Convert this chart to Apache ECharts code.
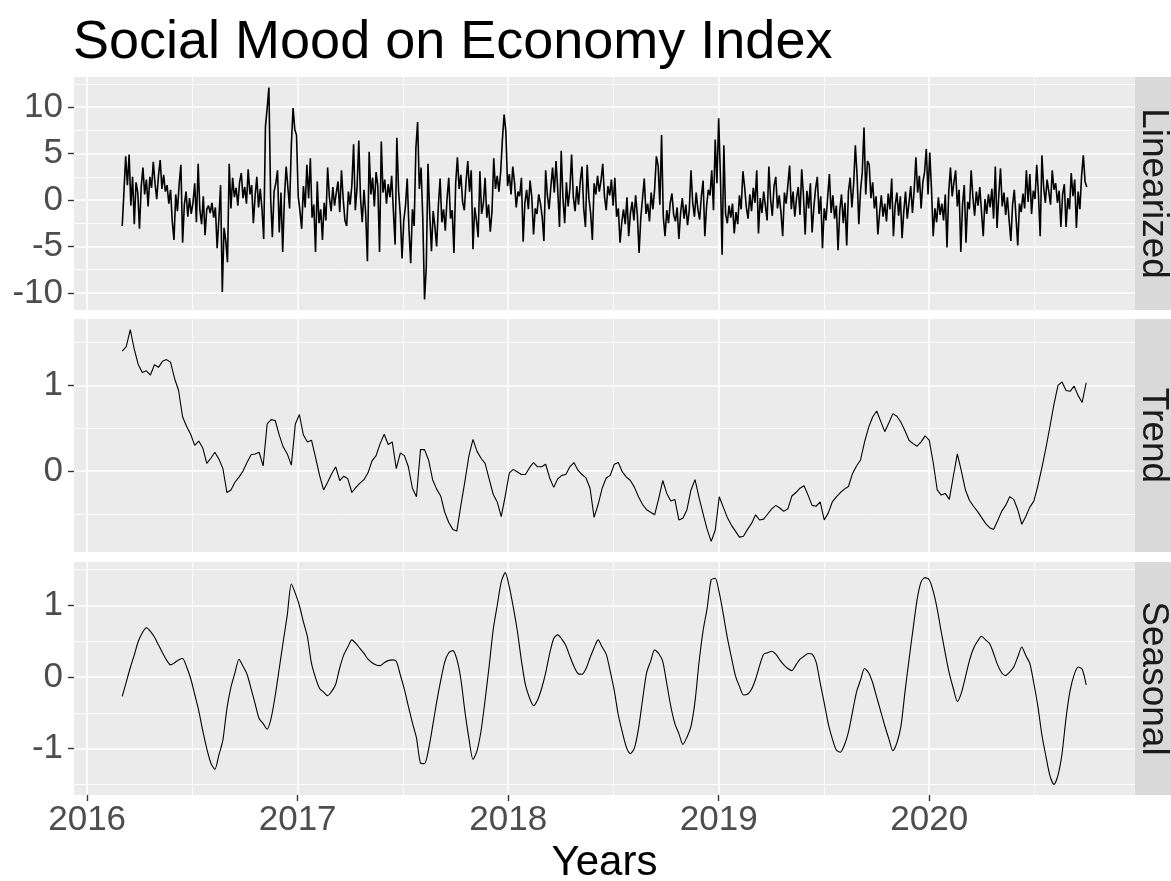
<!DOCTYPE html>
<html>
<head>
<meta charset="utf-8">
<title>Social Mood on Economy Index</title>
<script src="https://cdn.jsdelivr.net/npm/echarts@6/dist/echarts.min.js"></script>
<style>
  html, body { margin: 0; padding: 0; background: #fff; }
  #chart { width: 1171px; height: 881px; }
</style>
</head>
<body>
<div id="chart"></div>
<script>
// linearized index, one value every 3 days from 2016-03-02
const linearStart = '2016-03-02';
const linearStepDays = 3;
const linearized = [
  -2.8, 0.9, 4.7, 1.6, 4.9, -0.6, 2.5, -2.6, 1.9, 0.8,
  -3.1, 1.4, 3.5, 0.6, 2.2, -0.7, 2.5, 1.3, 4.1, 1.8,
  0.1, 2.6, 4.3, 1.2, 2.7, 0.9, 1.6, -0.4, 1.1, -2.3,
  -4.3, 0.6, -1.2, 1.7, 3.8, -4.6, -0.5, 0.9, -1.8, 0.2,
  -1.5, -0.3, 1.8, -2.4, 3.9, -1.1, -2.6, 0.4, -3.8, -1.0,
  -0.6, -1.4, -0.3, -1.9, -0.8, -5.2, -2.1, 1.6, -9.9, -3.0,
  -4.4, -6.7, 3.9, -0.9, 2.4, 0.3, 1.3, -0.6, 1.9, 2.9,
  0.2, 1.4, -0.4, 3.3, 0.6, 1.6, -2.5, 0.4, 2.5, -0.8,
  1.2, -1.0, -4.2, 7.9, 9.9, 12.1, 0.3, -4.0, 0.9, 1.8,
  3.2, -3.5, 0.8, -5.6, 0.2, 3.6, 3.8, -0.9, 5.9, 9.9,
  7.6, 7.0, 0.4, -1.2, -3.1, 1.5, -0.8, 3.8, 0.2, 4.5,
  -1.9, -0.5, -5.6, 2.0, -2.5, -1.0, -4.3, -0.3, -2.2, 3.5,
  0.3, -1.2, 1.4, -0.6, 0.8, 2.0, -1.3, 3.2, 0.1, -2.2,
  -2.8, 0.9, -0.5, 1.6, 6.0, -1.1, 1.3, 6.4, 0.2, -2.4,
  1.1, -1.5, -6.6, 5.2, 0.6, 2.4, -0.7, 3.0, 1.5, -5.6,
  6.3, 0.8, 2.2, -0.4, 1.7, 0.3, 2.6, -1.2, -4.8, 6.7,
  1.0, -1.6, -6.3, -2.2, -0.6, 2.3, -3.1, -6.8, -1.0, -2.8,
  5.6, 8.4, 1.2, 3.5, -2.0, -10.7, -7.3, 3.9, -1.5, -5.5,
  -1.2, -2.9, -5.0, -0.6, 2.3, -2.4, -1.0, -3.3, 0.1, 2.4,
  -2.0, -1.1, -5.7, 1.8, 4.6, 1.2, 2.7, -0.2, -1.1, 2.0,
  4.2, 0.9, 3.2, -5.3, -0.8, -2.2, -4.0, 3.1, -1.5, -0.4,
  2.4, -1.9, -0.5, -3.4, -1.2, 4.5, 1.2, 2.6, 0.9, 3.0,
  6.5, 9.2, 7.4, 1.5, 2.8, 0.6, 3.6, 1.9, -0.8, 0.9,
  0.4, 2.4, -4.5, -0.3, 1.1, -1.0, 2.1, 0.3, -3.7, -0.9,
  -1.5, 0.6, -0.4, -1.8, -4.4, 3.2, 0.5, -1.0, 1.4, 3.5,
  0.8, 4.2, 1.1, -2.9, 5.3, 0.2, -2.5, 1.9, -0.7, 1.2,
  4.9, 0.3, -1.2, 1.5, -0.5, 2.0, 3.6, -0.9, -2.9, 3.8,
  0.2, -1.4, -4.3, 1.8, 0.6, 2.6, 0.9, 2.1, 3.9, 0.4,
  -1.1, 1.5, 0.5, 2.2, -0.6, 2.4, -1.8, -0.9, -4.6, -2.4,
  -1.0, -2.6, 0.3, -3.9, -1.4, -0.2, -2.2, 0.5, -1.6, -5.7,
  -1.9, 0.2, 2.3, -1.5, -0.4, -2.3, 0.8, -1.0, 1.2, 4.7,
  3.7, -0.5, 7.0, -1.8, -3.9, -1.1, -2.5, -0.3, 0.7, -1.6,
  -2.3, -0.8, -4.2, -1.4, 0.2, -2.0, -0.5, -2.7, -1.1, 3.2,
  -0.3, -1.8, 0.8, -1.0, -2.1, 0.4, 2.1, -3.9, -0.7, 1.1,
  0.5, 3.2, -1.1, 6.5, 1.8, 8.8, 2.6, -5.9, 5.9, -1.5,
  -2.5, -0.6, -1.9, -0.4, -3.6, -1.3, -2.6, 0.5, -1.0, 3.1,
  1.4, -0.8, -2.0, 0.6, -1.2, 1.3, -0.3, 3.2, -3.6, 0.2,
  -1.4, 0.9, -0.6, -2.2, 3.6, 0.1, -1.7, 1.5, 2.5, -0.9,
  0.5, -1.3, -3.9, 0.8, -0.4, 1.6, 3.7, -1.0, 0.9, -1.8,
  0.2, 1.4, -1.6, 3.3, 0.5, -3.7, 1.0, -0.9, 1.8, -3.5,
  -0.8, 1.2, 2.5, -1.5, 0.4, -5.2, -0.9, -2.2, 0.3, 2.8,
  -1.4, 0.5, -2.0, -0.6, -5.4, -1.1, 0.6, -2.5, -0.3, -4.9,
  0.9, 2.4, -0.8, 1.7, 5.9, 2.6, -2.6, 1.0, 3.0, 7.8,
  0.6, 4.2, 3.8, 0.2, 1.9, -0.9, 0.4, -3.7, -1.4, 0.5,
  -1.8, -0.4, -2.3, 0.7, -1.0, 2.3, -3.9, -0.6, 0.8, -1.7,
  0.4, -4.1, -1.2, 0.9, -2.0, -0.3, 1.5, -1.4, 1.1, 4.6,
  0.8, 2.6, -0.9, 1.9, 3.0, 5.5, 0.6, 5.1, 1.2, -3.9,
  -0.9, -2.4, 0.3, -1.6, -0.4, -2.2, 0.6, -5.1, 0.9, 3.5,
  0.4, 1.9, 3.2, -0.7, 1.1, -5.6, -0.5, 1.6, -4.6, -0.2,
  -1.0, 3.2, 0.3, -1.7, 0.9, -0.6, 1.4, -1.3, -3.9, 0.1,
  -1.5, 0.6, -0.8, 1.2, -2.0, 3.6, -3.0, 0.5, 3.4, -0.7,
  0.8, -1.6, 0.3, -2.2, -4.4, -0.5, 1.1, -1.9, -4.9, -0.4,
  -1.3, 0.7, -0.9, 3.2, -0.2, 2.8, -1.5, 1.0, 0.1, 3.8,
  0.6, -3.9, 4.8, 1.4, -0.3, 2.2, 0.9, -0.5, 3.2, 1.1,
  1.8, -0.3, 1.0, -2.9, 0.6, 1.7, -2.9, 0.2, -1.0, 2.9,
  0.4, 2.2, -3.0, 0.9, -1.0, 2.6, 4.8, 2.0, 1.4
];

// trend and seasonal components, weekly from 2016-03-02
const weeklyStart = '2016-03-02';
const weeklyStepDays = 7;
const trend = [
  1.40, 1.45, 1.65, 1.42, 1.24, 1.15, 1.17, 1.12, 1.24, 1.21,
  1.28, 1.30, 1.27, 1.08, 0.94, 0.63, 0.52, 0.43, 0.30, 0.35,
  0.27, 0.09, 0.15, 0.22, 0.14, 0.03, -0.25, -0.22, -0.13, -0.07,
  0.00, 0.10, 0.19, 0.20, 0.22, 0.06, 0.55, 0.60, 0.59, 0.42,
  0.28, 0.20, 0.07, 0.55, 0.66, 0.42, 0.34, 0.36, 0.16, -0.05,
  -0.22, -0.13, -0.03, 0.05, -0.11, -0.06, -0.09, -0.25, -0.19, -0.14,
  -0.10, -0.02, 0.12, 0.18, 0.32, 0.43, 0.31, 0.34, 0.03, 0.21,
  0.18, 0.05, -0.20, -0.30, 0.25, 0.25, 0.13, -0.10, -0.21, -0.29,
  -0.48, -0.60, -0.68, -0.70, -0.40, -0.12, 0.18, 0.37, 0.23, 0.15,
  0.09, -0.09, -0.27, -0.36, -0.53, -0.29, -0.02, 0.02, -0.01, -0.04,
  -0.04, 0.04, 0.10, 0.05, 0.05, 0.08, -0.08, -0.19, -0.09, -0.05,
  -0.04, 0.05, 0.10, 0.01, -0.04, -0.08, -0.20, -0.54, -0.39, -0.20,
  -0.08, -0.05, 0.08, 0.10, -0.01, -0.07, -0.11, -0.19, -0.30, -0.39,
  -0.45, -0.48, -0.51, -0.32, -0.11, -0.26, -0.35, -0.33, -0.57, -0.55,
  -0.45, -0.22, -0.10, -0.31, -0.50, -0.68, -0.82, -0.69, -0.30, -0.42,
  -0.54, -0.63, -0.70, -0.77, -0.76, -0.68, -0.61, -0.51, -0.57, -0.56,
  -0.50, -0.44, -0.40, -0.43, -0.47, -0.44, -0.29, -0.25, -0.20, -0.17,
  -0.28, -0.40, -0.41, -0.36, -0.57, -0.49, -0.36, -0.30, -0.25, -0.21,
  -0.18, -0.03, 0.06, 0.13, 0.34, 0.51, 0.63, 0.70, 0.58, 0.46,
  0.56, 0.67, 0.64, 0.57, 0.47, 0.36, 0.32, 0.29, 0.34, 0.41,
  0.36, 0.10, -0.22, -0.28, -0.26, -0.33, -0.06, 0.20, 0.00, -0.22,
  -0.34, -0.41, -0.47, -0.54, -0.61, -0.66, -0.68, -0.58, -0.47, -0.40,
  -0.30, -0.33, -0.45, -0.62, -0.53, -0.42, -0.35, -0.17, 0.04, 0.27,
  0.52, 0.78, 1.00, 1.04, 0.94, 0.93, 0.99, 0.88, 0.80, 1.03
];
const seasonal = [
  -0.27, -0.07, 0.13, 0.31, 0.50, 0.62, 0.69, 0.64, 0.56, 0.45,
  0.34, 0.24, 0.17, 0.20, 0.24, 0.26, 0.14, -0.02, -0.24, -0.47,
  -0.75, -1.00, -1.20, -1.29, -1.09, -0.88, -0.44, -0.14, 0.06, 0.25,
  0.15, 0.04, -0.16, -0.37, -0.58, -0.65, -0.73, -0.57, -0.26, 0.12,
  0.50, 0.87, 1.30, 1.17, 1.00, 0.77, 0.56, 0.19, -0.01, -0.16,
  -0.21, -0.26, -0.20, -0.10, 0.13, 0.31, 0.42, 0.52, 0.47, 0.40,
  0.33, 0.25, 0.20, 0.17, 0.16, 0.20, 0.23, 0.24, 0.22, 0.03,
  -0.17, -0.41, -0.64, -0.85, -1.20, -1.21, -1.01, -0.69, -0.35, -0.05,
  0.21, 0.34, 0.37, 0.25, -0.03, -0.48, -0.86, -1.15, -1.03, -0.75,
  -0.32, 0.15, 0.66, 1.00, 1.33, 1.46, 1.26, 0.97, 0.64, 0.23,
  -0.11, -0.29, -0.40, -0.32, -0.16, 0.06, 0.33, 0.54, 0.59, 0.53,
  0.44, 0.29, 0.15, 0.05, 0.04, 0.12, 0.27, 0.41, 0.52, 0.42,
  0.32, 0.08, -0.19, -0.53, -0.77, -0.98, -1.07, -0.99, -0.72, -0.32,
  0.06, 0.22, 0.38, 0.33, 0.22, -0.09, -0.41, -0.65, -0.79, -0.94,
  -0.84, -0.69, -0.34, 0.21, 0.65, 0.96, 1.36, 1.38, 1.18, 0.88,
  0.55, 0.28, 0.02, -0.13, -0.25, -0.24, -0.17, -0.03, 0.16, 0.32,
  0.34, 0.36, 0.32, 0.24, 0.17, 0.12, 0.09, 0.17, 0.25, 0.29,
  0.33, 0.32, 0.21, -0.08, -0.36, -0.65, -0.86, -1.02, -1.05, -0.95,
  -0.77, -0.49, -0.21, -0.04, 0.12, 0.06, -0.08, -0.28, -0.48, -0.68,
  -0.86, -1.03, -0.92, -0.69, -0.21, 0.24, 0.67, 1.08, 1.33, 1.39,
  1.36, 1.20, 0.95, 0.63, 0.33, 0.05, -0.16, -0.34, -0.22, 0.00,
  0.23, 0.40, 0.50, 0.57, 0.52, 0.47, 0.33, 0.17, 0.06, 0.02,
  0.07, 0.14, 0.28, 0.42, 0.30, 0.19, -0.09, -0.41, -0.81, -1.11,
  -1.38, -1.50, -1.37, -1.07, -0.57, -0.19, 0.03, 0.14, 0.11, -0.11
];

const panelNames = ['Linearized', 'Trend', 'Seasonal'];
const yearTicks = [2016, 2017, 2018, 2019, 2020];
const yearMinor = [2016.5, 2017.5, 2018.5, 2019.5, 2020.5];
const yTicks = [[-10, -5, 0, 5, 10], [0, 1], [-1, 0, 1]];
const yMinor = [[-7.5, -2.5, 2.5, 7.5, 12.5], [-0.5, 0.5, 1.5], [-1.5, -0.5, 0.5, 1.5]];

const FONT = '"Liberation Sans", Arial, sans-serif';
const DAY = 86400000;

// date -> fractional year, so the x axis can be a plain value axis
function toYear(t) {
    const y = new Date(t).getUTCFullYear();
    const a = Date.UTC(y, 0, 1), b = Date.UTC(y + 1, 0, 1);
    return y + (t - a) / (b - a);
}
function pairs(values, start, step) {
    const t0 = Date.parse(start + 'T00:00:00Z');
    return values.map((v, i) => [toYear(t0 + i * step * DAY), v]);
}
// same 5% padding ggplot puts round the data
function padded(lo, hi) {
    const e = (hi - lo) * 0.05;
    return [lo - e, hi + e];
}

const seriesData = [
    pairs(linearized, linearStart, linearStepDays),
    pairs(trend, weeklyStart, weeklyStepDays),
    pairs(seasonal, weeklyStart, weeklyStepDays)
];
const allX = seriesData.flat().map(d => d[0]);
const [xMin, xMax] = padded(Math.min(...allX), Math.max(...allX));

const panelTop = [77, 319, 562];
const panelH = 233;
const panelLeft = 74;
const panelW = 1061;

const grid = [], xAxis = [], yAxis = [], series = [], graphic = [];

panelNames.forEach((name, p) => {
    const vals = seriesData[p].map(d => d[1]);
    const [yMin, yMax] = padded(Math.min(...vals), Math.max(...vals));
    const last = p === 2;

    grid.push({
        left: panelLeft, top: panelTop[p], width: panelW, height: panelH,
        show: true, backgroundColor: '#EBEBEB', borderWidth: 0,
        outerBoundsMode: 'none'
    });

    // major x lines / ticks / labels
    xAxis.push({
        type: 'value', gridIndex: p, min: xMin, max: xMax, position: 'bottom',
        axisLine: { show: false, onZero: false },
        axisTick: { show: last, customValues: yearTicks, length: 6, lineStyle: { color: '#333333', width: 1.4 } },
        axisLabel: {
            show: last, customValues: yearTicks, margin: 8,
            color: '#4D4D4D', fontSize: 35, fontFamily: FONT,
            formatter: v => String(Math.round(v))
        },
        splitLine: { show: true, lineStyle: { color: '#FFFFFF', width: 1.6 } },
        name: last ? 'Years' : '', nameLocation: 'middle', nameGap: 47,
        nameTextStyle: { color: '#000000', fontSize: 42, fontFamily: FONT }
    });
    // minor x lines
    xAxis.push({
        type: 'value', gridIndex: p, min: xMin, max: xMax, position: 'top',
        axisLine: { show: false, onZero: false },
        axisTick: { show: false, customValues: yearMinor },
        axisLabel: { show: false, customValues: yearMinor },
        splitLine: { show: true, lineStyle: { color: '#FFFFFF', width: 0.8 } }
    });

    yAxis.push({
        type: 'value', gridIndex: p, min: yMin, max: yMax, position: 'left',
        axisLine: { show: false, onZero: false },
        axisTick: { show: true, customValues: yTicks[p], length: 6, lineStyle: { color: '#333333', width: 1.4 } },
        axisLabel: {
            customValues: yTicks[p], margin: 11,
            color: '#4D4D4D', fontSize: 35, fontFamily: FONT,
            formatter: v => String(v)
        },
        splitLine: { show: true, lineStyle: { color: '#FFFFFF', width: 1.6 } }
    });
    yAxis.push({
        type: 'value', gridIndex: p, min: yMin, max: yMax, position: 'right',
        axisLine: { show: false, onZero: false },
        axisTick: { show: false, customValues: yMinor[p] },
        axisLabel: { show: false, customValues: yMinor[p] },
        splitLine: { show: true, lineStyle: { color: '#FFFFFF', width: 0.8 } }
    });

    series.push({
        type: 'line', name: name,
        xAxisIndex: 2 * p, yAxisIndex: 2 * p,
        data: seriesData[p],
        symbol: 'none', showSymbol: false,
        smooth: p === 2 ? 0.25 : false,
        lineStyle: { color: '#000000', width: p === 0 ? 1.6 : 1.1 },
        silent: true, z: 3
    });

    // facet strip on the right
    graphic.push({
        type: 'rect', silent: true,
        shape: { x: panelLeft + panelW, y: panelTop[p], width: 36, height: panelH },
        style: { fill: '#D9D9D9' }
    });
    graphic.push({
        type: 'text', silent: true,
        x: panelLeft + panelW + 18, y: panelTop[p] + panelH / 2,
        rotation: -Math.PI / 2,
        style: {
            text: name, fill: '#1A1A1A', font: '37px ' + FONT,
            textAlign: 'center', textVerticalAlign: 'middle',
            align: 'center', verticalAlign: 'middle'
        }
    });
});

const myChart = echarts.init(document.getElementById('chart'), null, { renderer: 'canvas' });
myChart.setOption({
    animation: false,
    backgroundColor: '#FFFFFF',
    title: {
        text: 'Social Mood on Economy Index',
        left: 73, top: 16, padding: 0,
        textStyle: { color: '#000000', fontSize: 54, fontWeight: 'normal', fontFamily: FONT }
    },
    tooltip: { show: false },
    grid: grid,
    xAxis: xAxis,
    yAxis: yAxis,
    series: series,
    graphic: graphic
});
</script>
</body>
</html>
